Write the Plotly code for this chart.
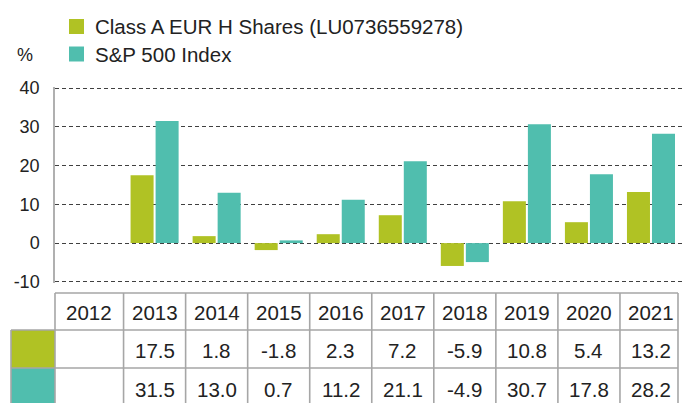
import plotly.graph_objects as go

years = ["2012", "2013", "2014", "2015", "2016", "2017", "2018", "2019", "2020", "2021"]
class_a = [None, 17.5, 1.8, -1.8, 2.3, 7.2, -5.9, 10.8, 5.4, 13.2]
sp500 = [None, 31.5, 13.0, 0.7, 11.2, 21.1, -4.9, 30.7, 17.8, 28.2]
class_a_lbl = ["", "17.5", "1.8", "-1.8", "2.3", "7.2", "-5.9", "10.8", "5.4", "13.2"]
sp500_lbl = ["", "31.5", "13.0", "0.7", "11.2", "21.1", "-4.9", "30.7", "17.8", "28.2"]
series_names = ["Class A EUR H Shares (LU0736559278)", "S&P 500 Index"]
y_ticks = [-10, 0, 10, 20, 30, 40]
y_tick_text = ["-10", "0", "10", "20", "30", "40"]

GREEN = "#b0c224"
TEAL = "#50beae"
TXT = "#222222"
LINE = "#a6a6a6"
FONT = "Liberation Sans, Arial, sans-serif"

W, H = 684, 403
ML, MR, MT, MB = 55, 1, 87, 120
PW, PH = W - ML - MR, H - MT - MB
XR = [-0.605, 9.516]
YR = [-10.3, 40.3]


def px_x(px):
    return (px - ML) / PW


def px_y(py):
    return (MT + PH - py) / PH


def dx(v):  # data x -> paper
    return (v - XR[0]) / (XR[1] - XR[0])


fig = go.Figure()
fig.add_bar(x=years, y=class_a, name=series_names[0], marker_color=GREEN,
            marker_line_width=0, showlegend=False)
fig.add_bar(x=years, y=sp500, name=series_names[1], marker_color=TEAL,
            marker_line_width=0, showlegend=False)

shapes = []
annotations = []

# legend
leg = [(series_names[0], GREEN, 26.5), (series_names[1], TEAL, 54)]
for name, col, cy in leg:
    shapes.append(dict(type="rect", xref="paper", yref="paper",
                       x0=px_x(69), x1=px_x(84), y0=px_y(cy - 7.5), y1=px_y(cy + 7.5),
                       fillcolor=col, line_width=0))
    annotations.append(dict(text=name, xref="paper", yref="paper", x=px_x(93), y=px_y(cy),
                            xanchor="left", yanchor="middle", showarrow=False,
                            font=dict(size=20.5, color=TXT, family=FONT)))
annotations.append(dict(text="%", xref="paper", yref="paper", x=px_x(14.5), y=px_y(55),
                        xanchor="left", yanchor="middle", showarrow=False,
                        font=dict(size=18, color=TXT, family=FONT)))

# table
row_top, row1, row2, row_bot = 293, 330, 368, 410
cy_head, cy_a, cy_b = 312, 350, 389
sw_left = 11
right_px = 678

# swatches
shapes.append(dict(type="rect", xref="paper", yref="paper", x0=px_x(sw_left), x1=0,
                   y0=px_y(row2), y1=px_y(row1), fillcolor=GREEN, line_width=0, layer="below"))
shapes.append(dict(type="rect", xref="paper", yref="paper", x0=px_x(sw_left), x1=0,
                   y0=px_y(row_bot), y1=px_y(row2), fillcolor=TEAL, line_width=0, layer="below"))

lw = 1.6
# horizontal lines
shapes.append(dict(type="line", xref="paper", yref="paper", x0=0, x1=px_x(right_px),
                   y0=px_y(row_top), y1=px_y(row_top), line=dict(color=LINE, width=lw)))
for ry in (row1, row2):
    shapes.append(dict(type="line", xref="paper", yref="paper", x0=px_x(sw_left), x1=px_x(right_px),
                       y0=px_y(ry), y1=px_y(ry), line=dict(color=LINE, width=lw)))
# vertical lines
shapes.append(dict(type="line", xref="paper", yref="paper", x0=px_x(sw_left), x1=px_x(sw_left),
                   y0=px_y(row1), y1=px_y(row_bot), line=dict(color=LINE, width=lw)))
for xp in [0] + [dx(i + 0.5) for i in range(len(years) - 1)] + [px_x(right_px)]:
    shapes.append(dict(type="line", xref="paper", yref="paper", x0=xp, x1=xp,
                       y0=px_y(row_top), y1=px_y(row_bot), line=dict(color=LINE, width=lw)))

tf = dict(size=20.5, color=TXT, family=FONT)
for i, yr in enumerate(years):
    xc = (XR[0] + 0.5) / 2 if i == 0 else i
    annotations.append(dict(text=yr, xref="x", yref="paper", x=xc, y=px_y(cy_head),
                            showarrow=False, font=tf, xanchor="center", yanchor="middle"))
    for lbl, cy in ((class_a_lbl[i], cy_a), (sp500_lbl[i], cy_b)):
        if lbl:
            annotations.append(dict(text=lbl, xref="x", yref="paper", x=i, y=px_y(cy),
                                    showarrow=False, font=tf, xanchor="center", yanchor="middle"))

fig.update_layout(
    width=W, height=H,
    margin=dict(l=ML, r=MR, t=MT, b=MB),
    paper_bgcolor="white", plot_bgcolor="white",
    barmode="group", bargap=0.1935, bargroupgap=0.08,
    shapes=shapes, annotations=annotations,
    xaxis=dict(type="category", range=XR, showticklabels=False, showgrid=False,
               zeroline=False, showline=False, fixedrange=True),
    yaxis=dict(range=YR, tickvals=y_ticks, ticktext=y_tick_text, showgrid=True,
               gridcolor="#404040", griddash="4px,3px", gridwidth=1, zeroline=False,
               showline=True, linecolor="#b0b0b0", linewidth=1.5, ticks="",
               ticklabelstandoff=10,
               tickfont=dict(size=18, color=TXT, family=FONT), fixedrange=True),
    font=dict(family=FONT, color=TXT),
)

fig.write_html("out.html")
